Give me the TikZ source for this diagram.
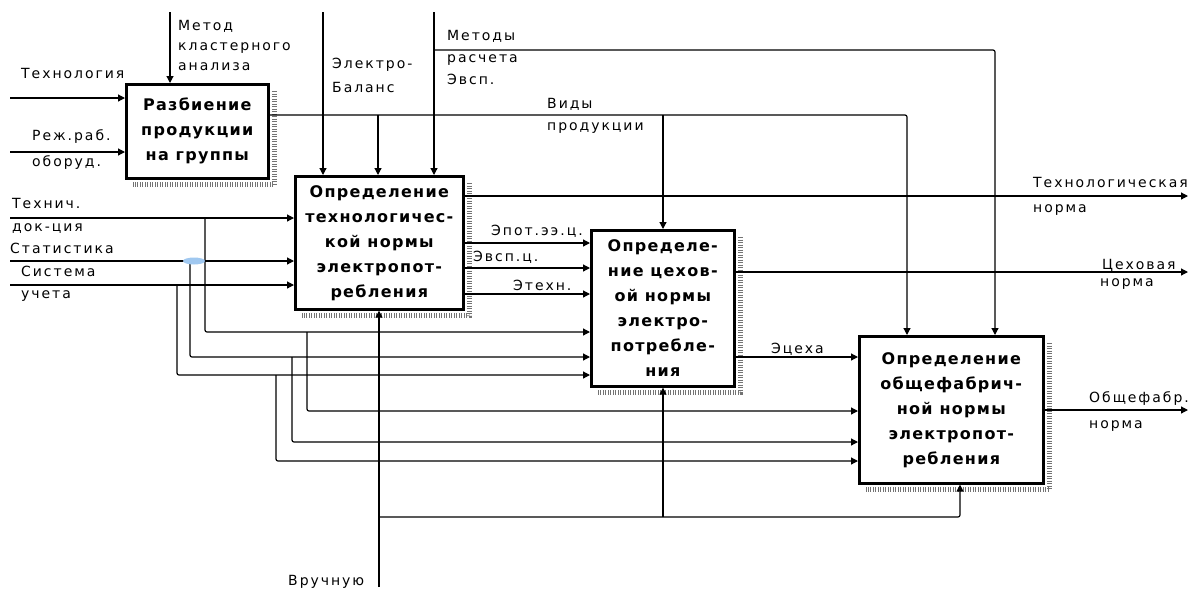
\documentclass[tikz,border=0pt]{standalone}
\usepackage{fontspec}
\newfontfamily\lblfont[LetterSpace=14]{DejaVu Sans}
\newfontfamily\boxfont[LetterSpace=8]{DejaVu Sans}
\usepackage{tikz}
\usetikzlibrary{positioning,calc,arrows.meta}

\begin{document}
\begin{tikzpicture}[
    x=1pt, y=-1pt,
    func/.style={draw, line width=2.6pt, anchor=north west, inner sep=0pt,
                 align=center, font=\boxfont\bfseries\fontsize{16}{25}\selectfont},
    lbl/.style={inner sep=0pt, anchor=west, align=left,
                font=\lblfont\fontsize{14}{20}\selectfont},
    arr/.style={-{Triangle[length=7pt,width=7pt]}, line width=1.2pt},
    wire/.style={line width=1.2pt, rounded corners=2pt},
    boxshadow/.style={line width=5pt, black!55, dash pattern=on 1pt off 1.5pt},
  ]
  \useasboundingbox (0,0) rectangle (1192,590);

  % Functions
  \node[func, minimum width=142pt, minimum height=94pt] (split) at (125,83)
    {Разбиение\\продукции\\на группы};
  \node[func, minimum width=168pt, minimum height=133pt] (techn) at (294,175)
    {Определение\\технологичес-\\кой нормы\\электропот-\\ребления};
  \node[func, minimum width=143pt, minimum height=156pt] (shop) at (590,229)
    {Определе-\\ние цехов-\\ой нормы\\электро-\\потребле-\\ния};
  \node[func, minimum width=184pt, minimum height=147pt] (plant) at (858,335)
    {Определение\\общефабрич-\\ной нормы\\электропот-\\ребления};

  \draw[boxshadow] ($(split.north east)+(5,8)$) -- ($(split.south east)+(5,5)$) -- ($(split.south west)+(8,5)$);
  \draw[boxshadow] ($(techn.north east)+(5,8)$) -- ($(techn.south east)+(5,5)$) -- ($(techn.south west)+(8,5)$);
  \draw[boxshadow] ($(shop.north east)+(5,8)$) -- ($(shop.south east)+(5,5)$) -- ($(shop.south west)+(8,5)$);
  \draw[boxshadow] ($(plant.north east)+(5,8)$) -- ($(plant.south east)+(5,5)$) -- ($(plant.south west)+(8,5)$);

  % Free ends
  \coordinate (src-tech) at (10,98);
  \coordinate (src-rezh) at (10,152);
  \coordinate (src-clust) at (170,12);
  \coordinate (src-bal) at (323,12);
  \coordinate (src-meth) at (434,12);
  \coordinate (src-doc) at (10,218);
  \coordinate (src-stat) at (10,261);
  \coordinate (src-acc) at (10,285);
  \coordinate (src-hand) at (379,587);
  \coordinate (out-tech) at (1188,196);
  \coordinate (out-shop) at (1188,272);
  \coordinate (out-plant) at (1188,410);

  % Bends
  \coordinate (meth-turn) at (995,50);
  \coordinate (kind-turn) at (907,115);
  \coordinate (kind-b) at (378,115);
  \coordinate (kind-c) at (663,115);
  \coordinate (doc-a) at (205,332);
  \coordinate (stat-a) at (190,357);
  \coordinate (acc-a) at (177,375);
  \coordinate (doc-b) at (307,411);
  \coordinate (stat-b) at (292,442);
  \coordinate (acc-b) at (276,461);
  \coordinate (hand-turn) at (960,517);
  \coordinate (hand-c) at (663,517);

  % Inputs and controls of the first function
  \draw[arr] (src-tech) -- (src-tech -| split.west);
  \draw[arr] (src-rezh) -- (src-rezh -| split.west);
  \draw[arr] (src-clust) -- (src-clust |- split.north);

  % Controls from above
  \draw[arr] (src-bal) -- (src-bal |- techn.north);
  \draw[arr] (src-meth) -- (src-meth |- techn.north);
  \draw[arr, wire] (src-meth |- meth-turn) -- (meth-turn) -- (meth-turn |- plant.north);
  \draw[arr, wire] (split.east |- kind-turn) -- (kind-turn) -- (kind-turn |- plant.north);
  \draw[arr] (kind-b) -- (kind-b |- techn.north);
  \draw[arr] (kind-c) -- (kind-c |- shop.north);

  % Inputs from the left
  \draw[arr] (src-doc) -- (src-doc -| techn.west);
  \draw[arr] (src-stat) -- (src-stat -| techn.west);
  \draw[arr] (src-acc) -- (src-acc -| techn.west);
  \draw[arr, wire] (doc-a |- src-doc) -- (doc-a) -- (doc-a -| shop.west);
  \draw[arr, wire] (stat-a |- src-stat) -- (stat-a) -- (stat-a -| shop.west);
  \draw[arr, wire] (acc-a |- src-acc) -- (acc-a) -- (acc-a -| shop.west);
  \draw[arr, wire] (doc-b |- doc-a) -- (doc-b) -- (doc-b -| plant.west);
  \draw[arr, wire] (stat-b |- stat-a) -- (stat-b) -- (stat-b -| plant.west);
  \draw[arr, wire] (acc-b |- acc-a) -- (acc-b) -- (acc-b -| plant.west);
  \fill[fill={rgb,255:red,160;green,200;blue,240}] (194,261) ellipse [x radius=11pt, y radius=3.5pt];

  % Outputs
  \draw[arr] (out-tech -| techn.east) -- (out-tech);
  \draw[arr] (techn.east |- 0,243) -- (shop.west |- 0,243);
  \draw[arr] (techn.east |- 0,268) -- (shop.west |- 0,268);
  \draw[arr] (techn.east |- 0,294) -- (shop.west |- 0,294);
  \draw[arr] (out-shop -| shop.east) -- (out-shop);
  \draw[arr] (shop.east |- 0,357) -- (plant.west |- 0,357);
  \draw[arr] (out-plant -| plant.east) -- (out-plant);

  % Mechanism
  \draw[arr] (src-hand) -- (src-hand |- techn.south);
  \draw[arr, wire] (src-hand |- hand-turn) -- (hand-turn) -- (hand-turn |- plant.south);
  \draw[arr] (hand-c) -- (hand-c |- shop.south);

  % Labels
  \node[lbl] (l-tech) at (21,73) {Технология};
  \node[lbl] (l-rezh) at (32,150) {Реж.раб.\\[6pt]оборуд.};
  \node[lbl] (l-clust) at (178,45) {Метод\\кластерного\\анализа};
  \node[lbl] (l-bal) at (332,75) {Электро-\\[4pt]Баланс};
  \node[lbl] (l-meth) at (447,57) {Методы\\[2pt]расчета\\[2pt]Эвсп.};
  \node[lbl] (l-kind) at (547,116) {Виды\\[2pt]продукции};
  \node[lbl] (l-doc) at (12,216) {Технич.\\[3pt]док-ция};
  \node[lbl] (l-stat) at (10,248) {Статистика};
  \node[lbl] (l-acc) at (21,284) {Система\\[2pt]учета};
  \node[lbl] (l-pot) at (491,231) {Эпот.ээ.ц.};
  \node[lbl] (l-vsp) at (473,257) {Эвсп.ц.};
  \node[lbl] (l-tex) at (513,285) {Этехн.};
  \node[lbl] (l-ceh) at (771,349) {Эцеха};
  \node[lbl] (l-otech) at (1033,196) {Технологическая\\[5pt]норма};
  \node[lbl] (l-oshop) at (1102,265) {Цеховая};
  \node[lbl] (l-oshop2) at (1100,284) {норма};
  \node[lbl] (l-oplant) at (1089,412) {Общефабр.\\[6pt]норма};
  \node[lbl] (l-hand) at (288,582) {Вручную};

\end{tikzpicture}
\end{document}
